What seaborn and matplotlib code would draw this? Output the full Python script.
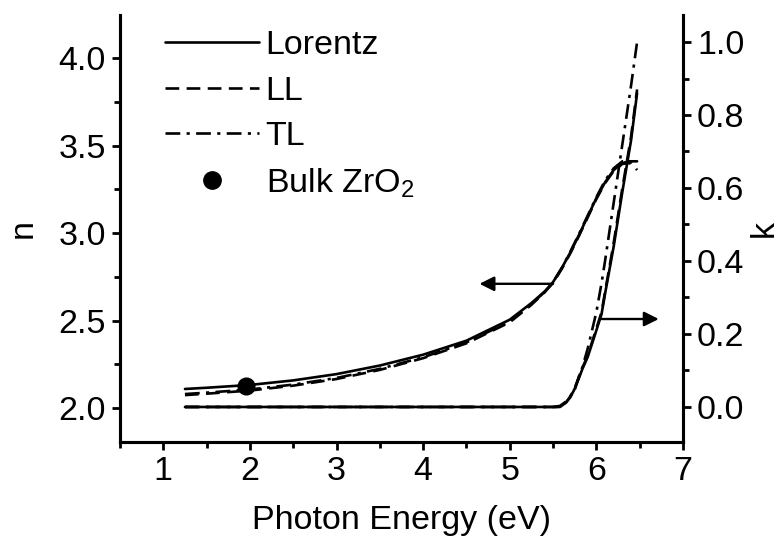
import numpy as np
import pandas as pd
import matplotlib
matplotlib.use("Agg")
import matplotlib.pyplot as plt
import seaborn as sns
from matplotlib.lines import Line2D
from matplotlib.ticker import MultipleLocator, FormatStrFormatter

# ---------------- data ----------------
x_n = [1.25, 1.5, 2.0, 2.5, 3.0, 3.5, 4.0, 4.5, 5.0, 5.25, 5.4, 5.5, 5.6,
       5.7, 5.8, 5.9, 6.0, 6.1, 6.2, 6.3, 6.38, 6.43, 6.47]
n_lorentz = [2.109, 2.116, 2.132, 2.158, 2.194, 2.243, 2.305, 2.385, 2.505,
             2.60, 2.665, 2.72, 2.80, 2.89, 2.99, 3.095, 3.20, 3.29, 3.36,
             3.40, 3.41, 3.41, 3.41]
n_ll = [2.074, 2.082, 2.100, 2.128, 2.166, 2.218, 2.285, 2.37, 2.49, 2.59,
        2.66, 2.715, 2.795, 2.885, 2.985, 3.09, 3.195, 3.285, 3.355, 3.395,
        3.40, 3.385, 3.36]
n_tl = [2.08, 2.088, 2.106, 2.134, 2.172, 2.224, 2.29, 2.375, 2.495, 2.595,
        2.662, 2.72, 2.80, 2.895, 2.995, 3.10, 3.205, 3.30, 3.37, 3.41, 3.41,
        3.40, 3.395]

x_k = [1.25, 5.5, 5.58, 5.65, 5.7, 5.75, 5.8, 5.84, 5.9, 6.0, 6.06, 6.1,
       6.2, 6.3, 6.4, 6.47]
k_lorentz = [0.0, 0.0, 0.0, 0.012, 0.027, 0.05, 0.08, 0.105, 0.137, 0.21,
             0.255, 0.31, 0.44, 0.59, 0.73, 0.86]
k_ll = [0.0, 0.0, 0.0, 0.013, 0.029, 0.052, 0.083, 0.108, 0.141, 0.215,
        0.26, 0.315, 0.45, 0.60, 0.74, 0.87]
k_tl = [0.0, 0.0, 0.003, 0.015, 0.03, 0.047, 0.085, 0.11, 0.16, 0.26,
        0.34, 0.40, 0.56, 0.72, 0.88, 1.0]

bulk_x = [1.96]
bulk_n = [2.125]

series_labels = ["Lorentz", "LL", "TL"]
bulk_label = "Bulk ZrO$_2$"
xlabel = "Photon Energy (eV)"
ylabel_left = "n"
ylabel_right = "k"

# ---------------- style ----------------
sns.set_theme(style="ticks")
plt.rcParams["font.family"] = ["Liberation Sans", "DejaVu Sans"]
plt.rcParams["mathtext.fontset"] = "custom"
plt.rcParams["mathtext.rm"] = "Liberation Sans"
plt.rcParams["mathtext.it"] = "Liberation Sans:italic"
for key in ["text.color", "axes.labelcolor", "xtick.color", "ytick.color",
            "xtick.labelcolor", "ytick.labelcolor", "axes.edgecolor"]:
    plt.rcParams[key] = "black"
FS = 24.5
plt.rcParams["font.size"] = FS
LW = 1.9
dash_ll = (5.2, 2.8)
dash_tl = (5.6, 2.4, 1.2, 2.4)

fig = plt.figure(figsize=(7.8, 5.5), dpi=100)
ax = fig.add_axes([120 / 780, 1 - 442 / 550, (683 - 120) / 780, (442 - 15) / 550])
ax2 = ax.twinx()

df_n = pd.DataFrame({"x": x_n, "Lorentz": n_lorentz, "LL": n_ll, "TL": n_tl})
df_k = pd.DataFrame({"x": x_k, "Lorentz": k_lorentz, "LL": k_ll, "TL": k_tl})

styles = {"Lorentz": dict(linestyle="-"),
          "LL": dict(dashes=dash_ll),
          "TL": dict(dashes=dash_tl)}

for name in ["LL", "TL", "Lorentz"]:
    kw = styles[name]
    sns.lineplot(data=df_n, x="x", y=name, ax=ax, color="black", lw=LW,
                 legend=False, sort=False, **kw)
    sns.lineplot(data=df_k, x="x", y=name, ax=ax2, color="black", lw=LW,
                 legend=False, sort=False, **kw)

sns.scatterplot(x=bulk_x, y=bulk_n, ax=ax, color="black", s=170,
                edgecolor="black", linewidth=0, zorder=5, legend=False)

# arrows
ax.annotate("", xy=(4.65, 2.71), xytext=(5.5, 2.71),
            arrowprops=dict(arrowstyle="-|>", color="black", lw=1.7,
                            mutation_scale=22, shrinkA=0, shrinkB=0))
ax2.annotate("", xy=(6.72, 0.241), xytext=(6.06, 0.241),
             arrowprops=dict(arrowstyle="-|>", color="black", lw=1.7,
                             mutation_scale=22, shrinkA=0, shrinkB=0))

# axes limits / ticks
ax.set_xlim(0.5, 7)
ax.set_ylim(1.806, 4.246)
ax2.set_ylim(-0.096, 1.074)
ax.xaxis.set_major_locator(MultipleLocator(1))
ax.xaxis.set_minor_locator(MultipleLocator(0.5))
ax.yaxis.set_major_locator(MultipleLocator(0.5))
ax.yaxis.set_minor_locator(MultipleLocator(0.25))
ax2.yaxis.set_major_locator(MultipleLocator(0.2))
ax2.yaxis.set_minor_locator(MultipleLocator(0.1))
ax.yaxis.set_major_formatter(FormatStrFormatter("%.1f"))
ax2.yaxis.set_major_formatter(FormatStrFormatter("%.1f"))

for a in (ax, ax2):
    a.tick_params(which="major", length=6, width=2.0, labelsize=FS, pad=4,
                  direction="out", color="black", labelcolor="black")
    a.tick_params(which="minor", length=4, width=2.0, direction="out",
                  color="black")
    for s in a.spines.values():
        s.set_linewidth(2.2)
        s.set_color("black")
    a.spines["top"].set_visible(False)
    a.grid(False)

ax.set_xlabel(xlabel, fontsize=FS, labelpad=13, color="black")
ax.set_ylabel(ylabel_left, fontsize=FS, labelpad=14, color="black")
ax2.set_ylabel(ylabel_right, fontsize=FS, labelpad=3, color="black")

# legend
handles = [
    Line2D([], [], color="black", lw=LW, linestyle="-"),
    Line2D([], [], color="black", lw=LW, dashes=dash_ll),
    Line2D([], [], color="black", lw=LW, dashes=dash_tl),
    Line2D([], [], color="black", marker="o", markersize=12.5, linestyle="none"),
]
labels = series_labels + [bulk_label]
leg = ax.legend(handles, labels, loc="upper left", bbox_to_anchor=(0.044, 1.012),
                frameon=False, fontsize=FS, handlelength=2.75, handletextpad=0.2,
                labelspacing=0.42, borderaxespad=0.2)
for t in leg.get_texts():
    t.set_color("black")

fig.savefig("out.png", dpi=100)
